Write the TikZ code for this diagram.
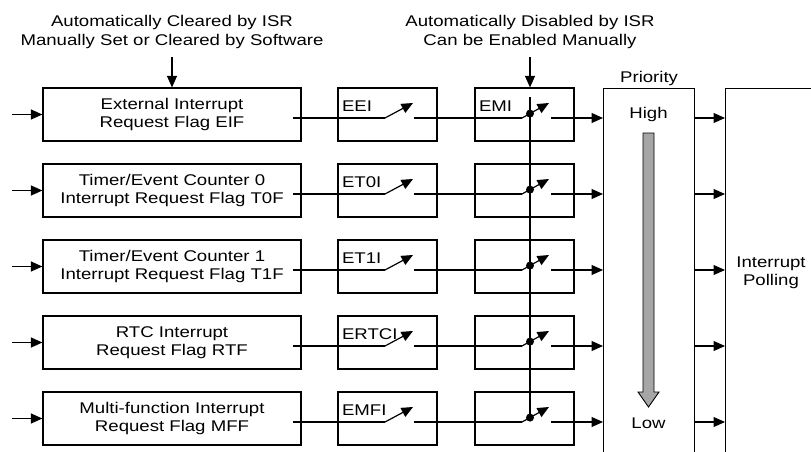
\documentclass[tikz,border=0pt]{standalone}
\usepackage{fontspec}
\setmainfont{Liberation Sans}[FakeStretch=1.2]
\usetikzlibrary{arrows.meta,positioning}
\definecolor{arrowgray}{gray}{0.65}

\begin{document}
\begin{tikzpicture}[x=1pt, y=-1pt, line width=1.2pt,
    font=\fontsize{15.5}{18}\selectfont,
    >={Triangle[length=11.5pt,width=10pt]},
    flagbox/.style={draw, minimum width=258pt, minimum height=53pt, align=center, inner sep=0pt},
    enbox/.style={draw, minimum width=99pt, minimum height=53pt},
    tag/.style={anchor=base west, inner sep=0pt},
    note/.style={align=center, font=\fontsize{15.5}{19.5}\selectfont}]
    \useasboundingbox (0,0) rectangle (811,452);

    % notes on top
    \node[note] (clrnote) at (172,32) {Automatically Cleared by ISR\\Manually Set or Cleared by Software};
    \node[note] (disnote) at (530,32) {Automatically Disabled by ISR\\Can be Enabled Manually};

    % priority and polling (open at the bottom)
    \node[draw, minimum width=91pt, minimum height=400pt, anchor=north west, inner sep=0pt] (prio) at (603,88) {};
    \node[draw, minimum width=150pt, minimum height=400pt, anchor=north west, inner sep=0pt] (poll) at (725,88) {};
    \node[anchor=base] at ([yshift=6pt]prio.north) {Priority};
    \node[anchor=base] (hi) at (648.5,118) {High};
    \node[anchor=base] (lo) at (648.5,428) {Low};
    \node[align=center] (pollname) at (771,272.5) {Interrupt\\Polling};
    \draw[fill=arrowgray, line width=0.9pt] (643,133) -- (654,133) -- (654,392) -- (659,392)
        -- (648.5,407) -- (638,392) -- (643,392) -- cycle;

    \foreach \i/\t/\en in {1/{External Interrupt\\Request Flag EIF}/EEI,
                           2/{Timer/Event Counter 0\\Interrupt Request Flag T0F}/ET0I,
                           3/{Timer/Event Counter 1\\Interrupt Request Flag T1F}/ET1I,
                           4/{RTC Interrupt\\Request Flag RTF}/ERTCI,
                           5/{Multi-function Interrupt\\Request Flag MFF}/EMFI}
    {
        \pgfmathsetmacro\cy{114.5+76*(\i-1)}
        \pgfmathsetmacro\ly{\cy+3.5}
        \node[flagbox] (f\i) at (172,\cy) {\t};
        \node[enbox] (e\i) at (387.5,\cy) {};
        \node[tag] at ([xshift=4pt,yshift=-24pt]e\i.north west) {\en};
        \node[enbox] (m\i) at (524.5,\cy) {};
        \coordinate (in\i) at (12,\cy);
        \coordinate (a\i) at (293,\ly);
        \coordinate (s\i) at (385,\ly);
        \coordinate (t\i) at (413,\ly-15);
        \coordinate (b\i) at (414,\ly);
        \coordinate (p\i) at (522,\ly);
        \coordinate (q\i) at (549,\ly-15);
        \coordinate (d\i) at (530,\ly-4.4);
        \coordinate (o\i) at (551,\ly);
        \draw[->] (in\i) -- (f\i);
        \draw (a\i) -- (s\i);
        \draw[->] (s\i) -- (t\i);
        \draw (b\i) -- (p\i);
        \draw[->] (p\i) -- (q\i);
        \fill (d\i) circle (4);
        \draw[->] (o\i) -- (o\i -| prio.west);
        \draw[->] (o\i -| prio.east) -- (o\i -| poll.west);
    }
    \node[tag] at ([xshift=4pt,yshift=-24pt]m1.north west) {EMI};

    % enable bus
    \coordinate (bustop) at (530,97);
    \draw (bustop) -- (d5);
    \draw[->] ([yshift=-4pt]clrnote.south) -- (clrnote.south |- f1.north);
    \draw[->] ([yshift=-4pt]disnote.south) -- (disnote.south |- m1.north);
\end{tikzpicture}
\end{document}
